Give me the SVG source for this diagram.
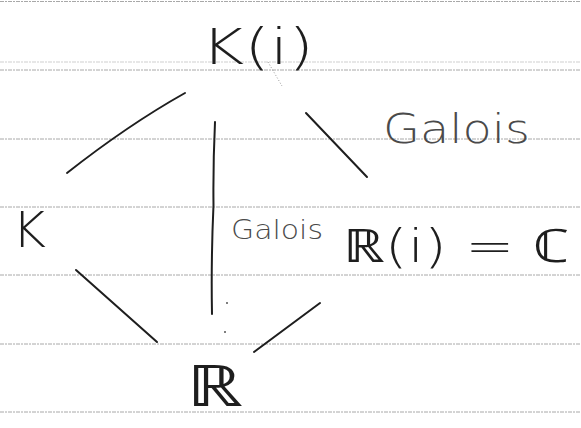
<svg xmlns="http://www.w3.org/2000/svg" width="581" height="428" viewBox="0 0 581 428">
  <style>
    .rule { stroke: #a8a8a8; stroke-width: 1; stroke-dasharray: 4 1 2 1; fill: none; }
    .rule.faint { stroke: #cfcfcf; }
    .edge { stroke: #1e1e1e; stroke-width: 2; fill: none; stroke-linecap: round; }
    .pencil { stroke: #9a9a9a; stroke-width: 1; fill: none; stroke-dasharray: 1 2; }
    .node { font-family: "DejaVu Sans", "Noto Sans", sans-serif; font-weight: 200; fill: #1e1e1e; }
    .label { font-family: "DejaVu Sans", "Noto Sans", sans-serif; font-weight: 200; fill: #4a4a4a; }
  </style>
  <rect width="581" height="428" fill="#ffffff"/>
  <g id="paper">
    <line class="rule" x1="0" y1="1.5" x2="581" y2="1.5"/>
    <line class="rule faint" x1="0" y1="62" x2="581" y2="62"/>
    <line class="rule" x1="0" y1="70" x2="581" y2="70"/>
    <line class="rule" x1="0" y1="139" x2="581" y2="139"/>
    <line class="rule" x1="0" y1="207" x2="581" y2="207"/>
    <line class="rule" x1="0" y1="275" x2="581" y2="275"/>
    <line class="rule" x1="0" y1="344" x2="581" y2="344"/>
    <line class="rule" x1="0" y1="412" x2="581" y2="412"/>
  </g>
  <g id="connectors">
    <path class="edge" d="M185,93 Q128,125 67,173"/>
    <path class="edge" d="M306,113 L367,177"/>
    <path class="edge" d="M215,122 Q213,165 213.5,205 Q211,260 212,314"/>
    <path class="edge" d="M76,270 L157,342"/>
    <path class="edge" d="M320,303 L254,352"/>
    <path class="pencil" d="M268,62 L282,86"/>
    <circle cx="227" cy="303" r="1" fill="#555"/>
    <circle cx="225" cy="332" r="1" fill="#555"/>
  </g>
  <g id="node-Ki">
    <text class="node" x="201" y="64" font-size="50" textLength="113" lengthAdjust="spacingAndGlyphs">K(i)</text>
  </g>
  <g id="node-K">
    <text class="node" x="12" y="247" font-size="50" textLength="34" lengthAdjust="spacingAndGlyphs">K</text>
  </g>
  <g id="node-RiC">
    <text class="node" x="343" y="262" font-size="46" textLength="227" lengthAdjust="spacingAndGlyphs">ℝ(i) = ℂ</text>
  </g>
  <g id="node-R">
    <text class="node" x="186" y="406" font-size="57" textLength="57" lengthAdjust="spacingAndGlyphs">ℝ</text>
  </g>
  <g id="label-galois-top">
    <text class="label" x="383" y="143" font-size="40" textLength="147" lengthAdjust="spacingAndGlyphs">Galois</text>
  </g>
  <g id="label-galois-mid">
    <text class="label" x="231" y="239" font-size="27" textLength="92" lengthAdjust="spacingAndGlyphs">Galois</text>
  </g>
</svg>
